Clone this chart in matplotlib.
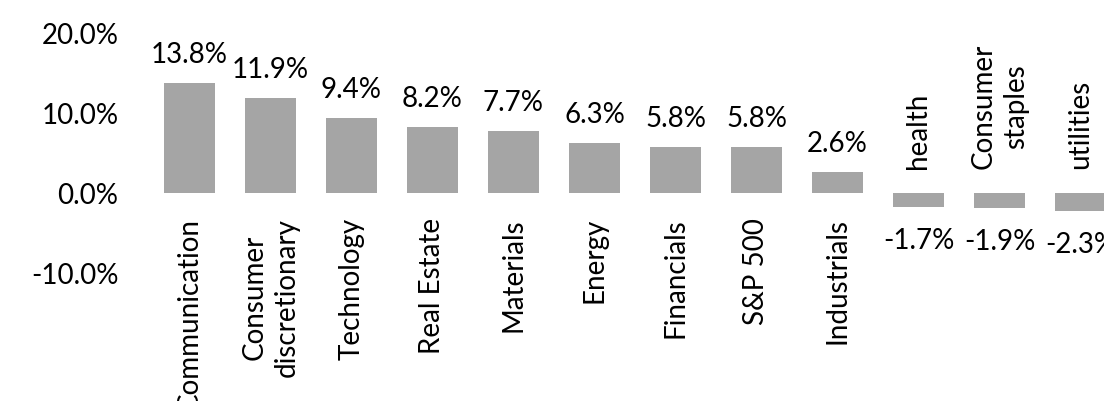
import matplotlib
matplotlib.use("Agg")
import matplotlib.pyplot as plt

categories = ["Communication", "Consumer\ndiscretionary", "Technology", "Real Estate",
              "Materials", "Energy", "Financials", "S&P 500", "Industrials",
              "health", "Consumer\nstaples", "utilities"]
values = [13.8, 11.9, 9.4, 8.2, 7.7, 6.3, 5.8, 5.8, 2.6, -1.7, -1.9, -2.3]
yticks = [-10, 0, 10, 20]
ytick_labels = ["-10.0%", "0.0%", "10.0%", "20.0%"]

plt.rcParams['font.family'] = ['Lato', 'DejaVu Sans']
FS = 20

fig = plt.figure(figsize=(11.04, 4.01), dpi=100)
ax = fig.add_axes([149/1104, 128/401, 972/1104, 240/401])

x = list(range(len(categories)))
ax.bar(x, values, width=0.62, color="#A5A5A5", zorder=2)

ax.set_xlim(-0.5, len(categories) - 0.5)
ax.set_ylim(-10, 20)
ax.set_yticks(yticks)
ax.set_yticklabels(ytick_labels, fontsize=FS)
ax.tick_params(axis='y', length=0, pad=22)
ax.set_xticks([])
for s in ax.spines.values():
    s.set_visible(False)

for xi, v, c in zip(x, values, categories):
    if v >= 0:
        ax.annotate(f"{v:.1f}%", (xi, v), xytext=(0, 14.4), textcoords='offset points',
                    ha='center', va='baseline', fontsize=FS)
        ax.annotate(c, (xi, 0), xytext=(0, -18), textcoords='offset points',
                    ha='center', va='top', rotation=90, multialignment='center',
                    linespacing=1.3, fontsize=FS, annotation_clip=False)
    else:
        ax.annotate(f"{v:.1f}%", (xi, v), xytext=(0, -30.2), textcoords='offset points',
                    ha='center', va='baseline', fontsize=FS, annotation_clip=False)
        ax.annotate(c, (xi, 0), xytext=(0, 17.3), textcoords='offset points',
                    ha='center', va='bottom', rotation=90, multialignment='center',
                    linespacing=1.3, fontsize=FS, annotation_clip=False)

fig.savefig("out.png", dpi=100)
